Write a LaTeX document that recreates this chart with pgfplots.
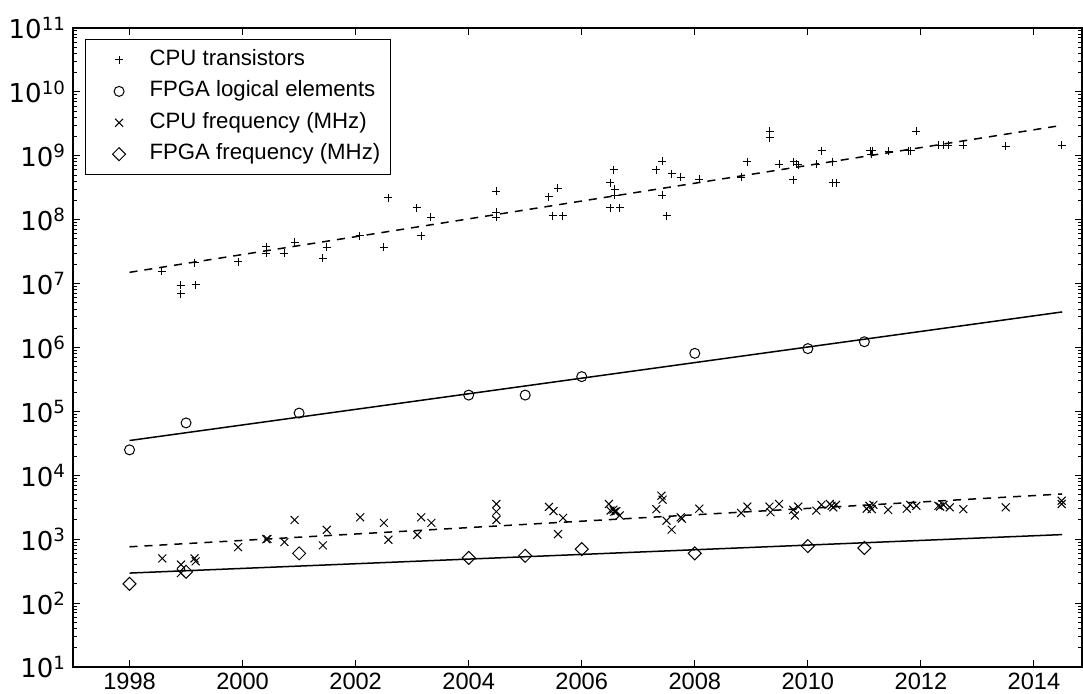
\documentclass[border=0pt]{standalone}
\usepackage{fontspec}
\setmainfont{Liberation Sans}
\newfontfamily\dvs{DejaVu Sans}
\usepackage{pgfplots}
\pgfplotsset{compat=1.18}
\begin{document}
\begin{tikzpicture}
\begin{axis}[
  scale only axis,
  width=504.5pt, height=319.5pt,
  xmin=1997, xmax=2014.85,
  ymode=log, ymin=1e1, ymax=1e11,
  xtick={1998,2000,...,2014},
  ytick={1e1,1e2,1e3,1e4,1e5,1e6,1e7,1e8,1e9,1e10,1e11},
  yticklabels={10\textsuperscript{1},10\textsuperscript{2},10\textsuperscript{3},10\textsuperscript{4},10\textsuperscript{5},10\textsuperscript{6},10\textsuperscript{7},10\textsuperscript{8},10\textsuperscript{9},10\textsuperscript{10},10\textsuperscript{11}},
  /pgf/number format/assume math mode=true,
  /pgf/number format/1000 sep={},
  x tick label style={font=\fontsize{11.8pt}{13pt}\selectfont, inner ysep=3pt},
  y tick label style={font=\dvs\fontsize{13pt}{15pt}\selectfont},
  major tick length=3.5pt, minor tick length=2pt,
  axis line style={line width=0.6pt},
  every tick/.style={black, line width=0.5pt},
  legend image code/.code={\path (0pt,0pt) (22pt,0pt); \draw[#1] plot coordinates {(13.5pt,0pt)};},
  legend style={at={(0,1)}, anchor=north west, xshift=6pt, yshift=-5.5pt,
    draw=black, line width=0.6pt, inner xsep=3pt, inner ysep=2.35pt,
    font=\fontsize{11.1pt}{13pt}\selectfont, column sep=4.5pt,
    nodes={text height=8pt, text depth=2.5pt, inner ysep=2.6pt}},
  legend cell align=left,
]
\addplot[only marks, mark=+, mark size=2pt, black, line width=0.5pt] coordinates {
(1998.57,1.55e7) (1998.91,9.4e6) (1998.91,6.9e6) (1999.17,9.6e6) (1999.15,2.1e7)
(1999.92,2.2e7) (2000.42,3.8e7) (2000.42,3.0e7) (2000.74,3.0e7) (2000.92,4.4e7)
(2001.42,2.5e7) (2001.49,3.7e7) (2002.07,5.6e7) (2002.50,3.7e7) (2002.58,2.2e8)
(2003.08,1.55e8) (2003.16,5.6e7) (2003.33,1.1e8) (2004.49,2.8e8) (2004.49,1.3e8)
(2004.49,1.1e8) (2005.42,2.3e8) (2005.58,3.1e8) (2005.49,1.16e8) (2005.66,1.16e8)
(2006.50,3.8e8) (2006.57,6.0e8) (2006.58,3.0e8) (2006.58,2.4e8) (2006.50,1.55e8)
(2006.67,1.55e8) (2007.32,6.0e8) (2007.42,8.2e8) (2007.42,2.4e8) (2007.50,1.16e8)
(2007.59,5.2e8) (2007.75,4.6e8) (2008.08,4.3e8) (2008.82,4.6e8) (2008.93,8.1e8)
(2009.33,2.4e9) (2009.33,1.9e9) (2009.49,7.4e8) (2009.74,4.2e8) (2009.75,8.1e8)
(2009.80,7.4e8) (2009.83,7.2e8) (2010.15,7.4e8) (2010.25,1.2e9) (2010.44,8.1e8)
(2010.44,3.8e8) (2010.50,3.8e8) (2011.10,1.2e9) (2011.14,1.2e9) (2011.12,1.05e9)
(2011.43,1.17e9) (2011.78,1.2e9) (2011.82,1.2e9) (2011.92,2.4e9) (2012.32,1.45e9)
(2012.40,1.45e9) (2012.48,1.45e9) (2012.75,1.45e9) (2013.50,1.4e9) (2014.49,1.45e9)
};
\addlegendentry{CPU transistors}
\addplot[only marks, mark=o, mark size=2.5pt, black, line width=0.5pt] coordinates {
(1998,2.5e4) (1999,6.6e4) (2001,9.4e4) (2004,1.8e5) (2005,1.8e5) (2006,3.5e5)
(2008,8.1e5) (2010,9.6e5) (2011,1.23e6)
};
\addlegendentry{FPGA logical elements}
\addplot[only marks, mark=x, mark size=2.8pt, black, line width=0.5pt] coordinates {
(1998.58,500) (1998.91,400) (1998.91,295) (1999.15,500) (1999.17,450)
(1999.92,750) (2000.42,1000) (2000.44,1010) (2000.74,900) (2000.92,2000)
(2001.42,800) (2001.49,1400) (2002.08,2200) (2002.50,1800) (2002.58,980)
(2003.09,1170) (2003.16,2200) (2003.34,1800) (2004.49,3560) (2004.49,2700)
(2004.49,2000) (2005.42,3200) (2005.50,2750) (2005.58,1200) (2005.67,2150)
(2006.48,3560) (2006.51,2800) (2006.56,2900) (2006.58,2700) (2006.61,2750)
(2006.67,2350) (2007.32,2950) (2007.41,4800) (2007.43,4150) (2007.50,1950)
(2007.59,1410) (2007.75,2200) (2007.77,2100) (2008.08,3000) (2008.82,2570)
(2008.93,3240) (2009.32,3240) (2009.34,2640) (2009.49,3560) (2009.74,2880)
(2009.77,2350) (2009.83,3240) (2010.15,2800) (2010.24,3450) (2010.39,3560)
(2010.42,3330) (2010.45,3150) (2010.50,3450) (2011.04,3000) (2011.09,3330)
(2011.13,2950) (2011.16,3450) (2011.42,2880) (2011.75,3000) (2011.81,3450)
(2011.92,3330) (2012.31,3330) (2012.34,3240) (2012.40,3450) (2012.51,3150)
(2012.75,2950) (2013.50,3150) (2014.49,4000) (2014.49,3560)
};
\addlegendentry{CPU frequency (MHz)}
\addplot[only marks, mark=square, mark size=2.3pt, black, line width=0.5pt,
  every mark/.append style={rotate=45}] coordinates {
(1998,200) (1999,309) (2001,600) (2004,510) (2005,550) (2006,700) (2008,600)
(2010,780) (2011,730)
};
\addlegendentry{FPGA frequency (MHz)}
\addplot[black, line width=0.75pt, dash pattern=on 4pt off 3.5pt, forget plot] coordinates {(1998,1.5e7) (2014.5,3.0e9)};
\addplot[black, line width=0.75pt, forget plot] coordinates {(1998,3.5e4) (2014.5,3.6e6)};
\addplot[black, line width=0.75pt, dash pattern=on 4pt off 3.5pt, forget plot] coordinates {(1998,760) (2014.5,5100)};
\addplot[black, line width=0.75pt, forget plot] coordinates {(1998,295) (2014.5,1180)};
\end{axis}
\pgfresetboundingbox
\path[use as bounding box] ([xshift=-36.5pt,yshift=-13.5pt]current axis.south west) rectangle ([xshift=0.5pt,yshift=14pt]current axis.north east);
\end{tikzpicture}
\end{document}
